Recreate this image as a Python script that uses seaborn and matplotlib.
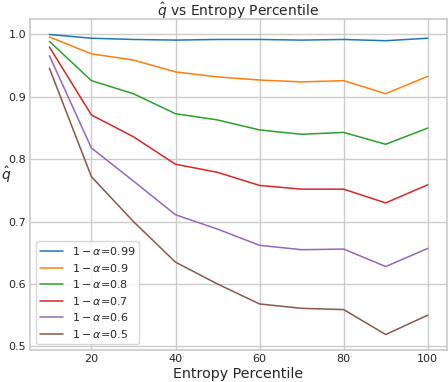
import numpy as np
import pandas as pd
import matplotlib
matplotlib.use("Agg")
import matplotlib.pyplot as plt
import seaborn as sns

# Entropy percentile on x
percentiles = [10, 20, 30, 40, 50, 60, 70, 80, 90, 100]

# q-hat for each coverage level 1 - alpha
q_099 = [1.000, 0.994, 0.992, 0.991, 0.992, 0.992, 0.991, 0.992, 0.990, 0.994]
q_090 = [0.996, 0.969, 0.959, 0.940, 0.932, 0.927, 0.924, 0.926, 0.905, 0.933]
q_080 = [0.989, 0.926, 0.905, 0.873, 0.863, 0.847, 0.840, 0.843, 0.824, 0.850]
q_070 = [0.980, 0.871, 0.836, 0.792, 0.779, 0.758, 0.752, 0.752, 0.730, 0.759]
q_060 = [0.966, 0.818, 0.765, 0.711, 0.688, 0.662, 0.655, 0.656, 0.628, 0.657]
q_050 = [0.946, 0.772, 0.700, 0.635, 0.600, 0.568, 0.561, 0.559, 0.519, 0.550]

levels = ["0.99", "0.9", "0.8", "0.7", "0.6", "0.5"]
series = [q_099, q_090, q_080, q_070, q_060, q_050]

# long format for seaborn
rows = []
for lvl, vals in zip(levels, series):
    for p, v in zip(percentiles, vals):
        rows.append({"percentile": p, "qhat": v, "level": r"$1-\alpha$=" + lvl})
df = pd.DataFrame(rows)

sns.set_theme(style="whitegrid")

fig, ax = plt.subplots(figsize=(4.48, 3.82), dpi=100)
sns.lineplot(data=df, x="percentile", y="qhat", hue="level", palette="tab10", ax=ax, linewidth=1.1)

ax.set_title(r"$\hat{q}$ vs Entropy Percentile", fontsize=10, pad=2.5)
ax.set_xlabel("Entropy Percentile", fontsize=10.3, labelpad=2)
ax.set_ylabel(r"$\hat{q}$", fontsize=10, rotation=0, labelpad=2)
ax.tick_params(axis="both", labelsize=8, length=0)
ax.tick_params(axis="x", pad=3.5)
ax.tick_params(axis="y", pad=3)
ax.legend(loc="lower left", fontsize=8, title=None, labelspacing=0.4)

fig.subplots_adjust(left=0.068, right=0.997, top=0.949, bottom=0.085)
plt.savefig("out.png", dpi=100)
